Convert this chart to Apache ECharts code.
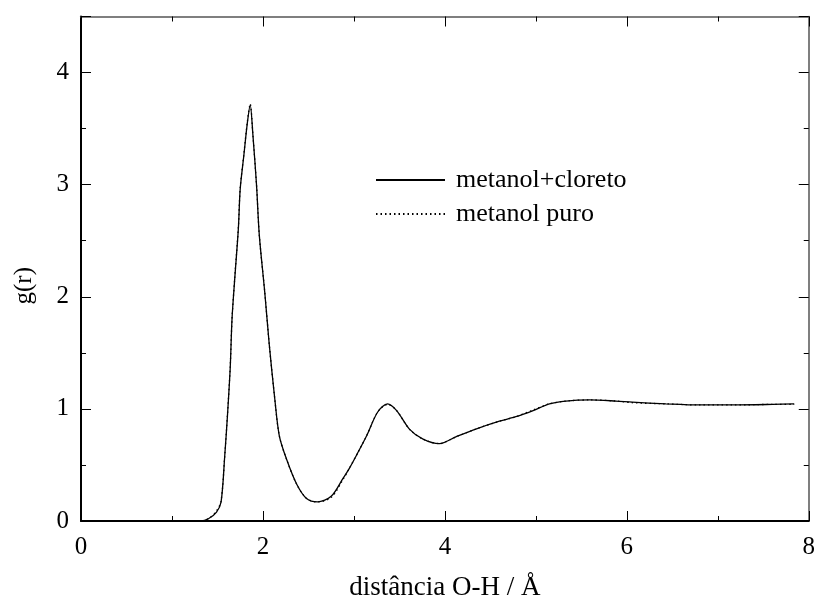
<!DOCTYPE html>
<html>
<head>
<meta charset="utf-8">
<script src="https://cdn.jsdelivr.net/npm/echarts@6/dist/echarts.min.js"></script>
<style>
html,body{margin:0;padding:0;background:#fff;}
#c{width:818px;height:606px;}
</style>
</head>
<body>
<div id="c"></div>
<script>
var seriesNames = ['metanol+cloreto', 'metanol puro'];
var rValues = [0, 0.5, 1.0, 1.3, 1.40, 1.49, 1.54, 1.58, 1.61, 1.64, 1.66, 1.69, 1.73, 1.75, 1.79, 1.83, 1.86, 1.89, 1.93, 1.96, 2.02, 2.07, 2.13, 2.18, 2.26, 2.37, 2.48, 2.60, 2.75, 2.88, 2.95, 3.05, 3.14, 3.26, 3.37, 3.47, 3.61, 3.76, 3.94, 4.12, 4.34, 4.60, 4.78, 4.97, 5.15, 5.33, 5.59, 5.88, 6.06, 6.43, 6.79, 7.16, 7.60, 7.84];
var gMetanolCloreto = [0, 0, 0, 0, 0.02, 0.08, 0.17, 0.58, 0.94, 1.36, 1.80, 2.16, 2.61, 2.96, 3.26, 3.56, 3.71, 3.44, 2.99, 2.55, 2.04, 1.57, 1.09, 0.76, 0.55, 0.33, 0.20, 0.17, 0.22, 0.38, 0.47, 0.62, 0.76, 0.97, 1.045, 0.985, 0.82, 0.73, 0.69, 0.75, 0.82, 0.89, 0.93, 0.985, 1.045, 1.07, 1.08, 1.07, 1.06, 1.045, 1.035, 1.035, 1.04, 1.045];
var gMetanolPuro = [0, 0, 0, 0, 0.02, 0.09, 0.18, 0.58, 0.95, 1.37, 1.80, 2.17, 2.62, 2.97, 3.27, 3.57, 3.72, 3.44, 2.99, 2.55, 2.04, 1.57, 1.09, 0.76, 0.55, 0.33, 0.20, 0.17, 0.21, 0.37, 0.47, 0.62, 0.76, 0.97, 1.04, 0.985, 0.82, 0.73, 0.69, 0.75, 0.82, 0.89, 0.93, 0.99, 1.045, 1.07, 1.08, 1.07, 1.055, 1.045, 1.035, 1.035, 1.04, 1.04];
var xTicks = [0, 2, 4, 6, 8];
var yTicks = [0, 1, 2, 3, 4];

function pairs(xs, ys) { return xs.map(function (x, i) { return [x, ys[i]]; }); }

var font = 'Liberation Serif, Times New Roman, serif';
var chart = echarts.init(document.getElementById('c'));

function xAx(pos, showLabel, lineColor, lineWidth) {
  return {
    type: 'value', position: pos, min: 0, max: 8, interval: 2,
    name: showLabel ? 'distância O-H / Å' : '', nameLocation: 'middle', nameGap: 53,
    nameTextStyle: { fontFamily: font, fontSize: 27, color: '#000' },
    axisLine: { show: true, onZero: false, lineStyle: { color: lineColor, width: lineWidth } },
    axisTick: { show: true, inside: true, length: 10, lineStyle: { color: '#000', width: 1 } },
    minorTick: { show: true, splitNumber: 2, length: 5, lineStyle: { color: '#000', width: 1 } },
    axisLabel: { show: showLabel, margin: 14, fontFamily: font, fontSize: 25, color: '#000',
      formatter: function (v) { return xTicks.indexOf(v) >= 0 ? String(v) : ''; } },
    splitLine: { show: false }
  };
}
function yAx(pos, showLabel, lineColor, lineWidth) {
  return {
    type: 'value', position: pos, min: 0, max: 4.5, interval: 1,
    name: showLabel ? 'g(r)' : '', nameLocation: 'middle', nameGap: 44,
    nameTextStyle: { fontFamily: font, fontSize: 25, color: '#000', padding: [0, 34, 0, 0] },
    axisLine: { show: true, onZero: false, lineStyle: { color: lineColor, width: lineWidth } },
    axisTick: { show: true, inside: true, length: 10, lineStyle: { color: '#000', width: 1 } },
    minorTick: { show: true, splitNumber: 2, length: 5, lineStyle: { color: '#000', width: 1 } },
    axisLabel: { show: showLabel, margin: 12, fontFamily: font, fontSize: 25, color: '#000',
      formatter: function (v) { return yTicks.indexOf(v) >= 0 ? String(v) : ''; } },
    splitLine: { show: false }
  };
}

chart.setOption({
  backgroundColor: '#fff',
  animation: false,
  grid: { left: 81, right: 8, top: 16.5, bottom: 84 },
  legend: {
    left: 370, top: 162, orient: 'vertical', itemWidth: 69, itemHeight: 14, itemGap: 8,
    itemStyle: { opacity: 0 },
    textStyle: { fontFamily: font, fontSize: 26, color: '#000', padding: [0, 0, 0, 6] },
    data: seriesNames
  },
  xAxis: [xAx('bottom', true, '#000', 2), xAx('top', false, '#555', 1.5)],
  yAxis: [yAx('left', true, '#000', 2), yAx('right', false, '#555', 1.5)],
  series: [
    { name: seriesNames[0], type: 'line', xAxisIndex: 0, yAxisIndex: 0, symbol: 'none', smooth: 0.3,
      lineStyle: { color: '#000', width: 1.3, type: 'solid' }, itemStyle: { color: '#000' },
      data: pairs(rValues, gMetanolCloreto) },
    { name: seriesNames[1], type: 'line', xAxisIndex: 0, yAxisIndex: 0, symbol: 'none', smooth: 0.3,
      lineStyle: { color: '#000', width: 1.3, type: [1.5, 3] }, itemStyle: { color: '#000' },
      data: pairs(rValues, gMetanolPuro) }
  ]
});
</script>
</body>
</html>
